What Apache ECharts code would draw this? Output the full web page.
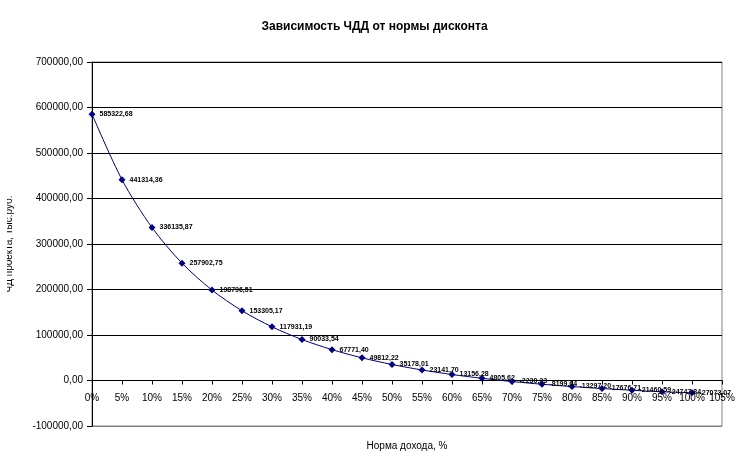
<!DOCTYPE html>
<html>
<head>
<meta charset="utf-8">
<script src="https://cdn.jsdelivr.net/npm/echarts@6/dist/echarts.min.js"></script>
<style>html,body{margin:0;padding:0;background:#fff}#c{width:749px;height:466px}</style>
</head>
<body>
<div id="c"></div>
<script>
var rates = [0,5,10,15,20,25,30,35,40,45,50,55,60,65,70,75,80,85,90,95,100];
var npv = [585322.68,441314.36,336135.87,257902.75,198796.51,153305.17,117931.19,90033.54,67771.40,49812.22,35178.01,23141.70,13156.28,4805.62,-2230.23,-8199.64,-13297.20,-17676.71,-21460.59,-24747.84,-27073.07];
var title = 'Зависимость ЧДД от нормы дисконта';
var xName = 'Норма дохода, %';
var yName = 'ЧД проекта, тыс.руб.';

function fmt(v){ return Number(v).toFixed(2).replace('.', ','); }

var data = rates.map(function(r, i){
  var item = {value: [r, npv[i]]};
  if (r === 80) item.label = {offset: [0, -12]};
  return item;
});

var chart = echarts.init(document.getElementById('c'), null, {renderer: 'canvas'});
chart.setOption({
  backgroundColor: '#fff',
  animation: false,
  title: {
    text: title, left: 'center', top: 16,
    textStyle: {fontFamily: 'Liberation Sans', fontSize: 12, fontWeight: 'bold', color: '#000'}
  },
  graphic: [{type: 'rect', left: 0, top: 0, shape: {width: 7, height: 466}, style: {fill: '#fff'}, z: 100}],
  grid: {left: 92, right: 27, top: 62, bottom: 40, show: true, borderColor: '#808080', borderWidth: 1, containLabel: false, outerBoundsMode: 'none'},
  xAxis: {
    type: 'value', min: 0, max: 105, interval: 5,
    name: xName, nameLocation: 'middle', nameGap: 15,
    nameTextStyle: {fontFamily: 'Liberation Sans', fontSize: 10, color: '#000'},
    axisLine: {onZero: true, lineStyle: {color: '#000', width: 1}},
    axisTick: {show: true, inside: false, length: 4, lineStyle: {color: '#000'}},
    axisLabel: {formatter: function(v){ return v + '%'; }, margin: -33, fontFamily: 'Liberation Sans', fontSize: 10, color: '#000'},
    splitLine: {show: false}
  },
  yAxis: {
    type: 'value', min: -100000, max: 700000, interval: 100000,
    name: yName, nameLocation: 'middle', nameGap: 78,
    nameTextStyle: {fontFamily: 'Liberation Sans', fontSize: 10, color: '#000'},
    axisLine: {show: true, lineStyle: {color: '#000', width: 1}},
    axisTick: {show: true, length: 5, lineStyle: {color: '#000'}},
    axisLabel: {formatter: fmt, margin: 9, fontFamily: 'Liberation Sans', fontSize: 10, color: '#000'},
    splitLine: {show: true, lineStyle: {color: ['#808080','#000','#000','#000','#000','#000','#000','#000','#000'], width: 1}}
  },
  series: [{
    type: 'line',
    data: data,
    smooth: 0.3,
    symbol: 'diamond',
    symbolSize: 7,
    lineStyle: {color: '#000080', width: 1},
    itemStyle: {color: '#000080'},
    label: {
      show: true, position: 'right', distance: 4,
      formatter: function(p){ return fmt(p.value[1]); },
      fontFamily: 'Liberation Sans', fontSize: 7, fontWeight: 'bold', color: '#000'
    },
    labelLayout: {hideOverlap: false}
  }]
});
</script>
</body>
</html>
